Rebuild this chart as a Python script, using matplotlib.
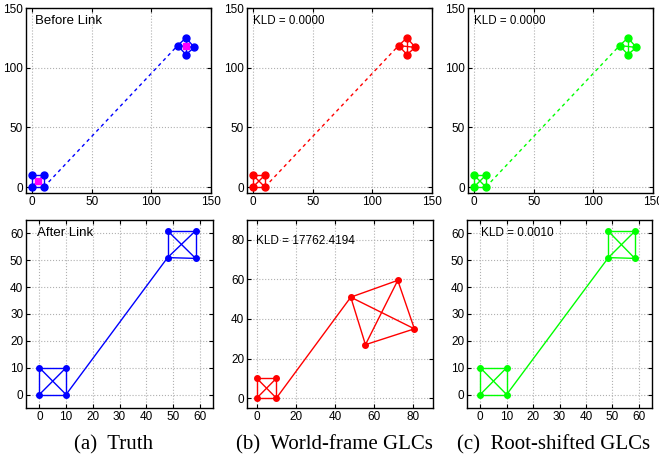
"""
Recreation of the three-column GLC comparison figure (before / after link).
"""

import matplotlib.pyplot as plt

# --- node coordinates ---
# lower square (same in every panel)
square_x = [0, 10, 10, 0]
square_y = [0, 0, 10, 10]

# upper group before the link (diamond)
diamond_x = [122, 129, 136, 129]
diamond_y = [118.5, 125, 117, 111]

# upper group after the link
truth_up_x = [48, 58.5, 58.5, 48]
truth_up_y = [51, 50.7, 61, 61]
world_up_x = [48, 55.5, 80.5, 72]
world_up_y = [51, 27, 35, 59.5]
root_up_x = [48.5, 58.5, 58.5, 48.5]
root_up_y = [51, 50.7, 60.8, 60.8]

# magenta centres in the truth panel
centre_x = [5, 129]
centre_y = [5, 118.5]

# edges inside a 4-node group: ring + both diagonals
EDGES = [(0, 1), (1, 2), (2, 3), (3, 0), (0, 2), (1, 3)]

titles_top = ["Before Link", "KLD = 0.0000", "KLD = 0.0000"]
titles_bot = ["After Link", "KLD = 17762.4194", "KLD = 0.0010"]
captions = ["(a)  Truth", "(b)  World-frame GLCs", "(c)  Root-shifted GLCs"]
colours = ["#0000ff", "#ff0000", "#00ff00"]

W, H = 659, 462


def px_axes(fig, x0, y0, x1, y1):
    return fig.add_axes([x0 / W, 1 - y1 / H, (x1 - x0) / W, (y1 - y0) / H])


def style(ax, lim, ticks):
    ax.set_xlim(lim)
    ax.set_ylim(lim)
    ax.set_xticks(ticks)
    ax.set_yticks(ticks)
    ax.grid(True, linestyle=":", color="#b0b0b0", linewidth=0.8)
    ax.tick_params(direction="in", length=3, labelsize=8.5, pad=2,
                   top=True, right=True, labeltop=False, labelright=False)
    for s in ax.spines.values():
        s.set_linewidth(1.0)


def draw_group(ax, xs, ys, c, ms):
    for i, j in EDGES:
        ax.plot([xs[i], xs[j]], [ys[i], ys[j]], color=c, lw=1.0)
    ax.plot(xs, ys, "o", color=c, ms=ms, mec=c)


def draw_graph(ax, up_x, up_y, c, ms, link, ls):
    draw_group(ax, square_x, square_y, c, ms)
    draw_group(ax, up_x, up_y, c, ms)
    ax.plot([square_x[1], up_x[link]], [square_y[1], up_y[link]],
            color=c, lw=1.0, linestyle=ls)


plt.rcParams["font.family"] = ["Liberation Sans", "DejaVu Sans"]
fig = plt.figure(figsize=(W / 100, H / 100), dpi=100)

top_x = [(26, 211), (247, 432), (468, 653)]
bot_x = [(26, 213), (247, 433), (467, 652)]
bot_lims = [(-5, 65), (-5, 90), (-5, 65)]
bot_ticks = [range(0, 61, 10), range(0, 81, 20), range(0, 61, 10)]
bot_up = [(truth_up_x, truth_up_y), (world_up_x, world_up_y),
          (root_up_x, root_up_y)]
bot_text_pos = [(0.06, 0.93), (0.05, 0.89), (0.075, 0.93)]

for k in range(3):
    c = colours[k]

    # top row: before the link
    ax = px_axes(fig, top_x[k][0], 8, top_x[k][1], 193)
    style(ax, (-5, 150), [0, 50, 100, 150])
    draw_graph(ax, diamond_x, diamond_y, c, 5, 0, (0, (2.5, 2.5)))
    if k == 0:
        ax.plot(centre_x, centre_y, "s", color="#ff00ff", ms=3.8, mec="#ff00ff")
    ax.text(0.05 if k == 0 else 0.03, 0.93, titles_top[k], transform=ax.transAxes,
            fontsize=9.5 if k == 0 else 8.3, va="center", ha="left")

    # bottom row: after the link
    ax = px_axes(fig, bot_x[k][0], 220, bot_x[k][1], 408)
    style(ax, bot_lims[k], list(bot_ticks[k]))
    draw_graph(ax, bot_up[k][0], bot_up[k][1], c, 4, 0, "-")
    tx, ty = bot_text_pos[k]
    ax.text(tx, ty, titles_bot[k], transform=ax.transAxes,
            fontsize=9.5 if k == 0 else 8.5, va="center", ha="left")

    fig.text(((bot_x[k][0] + bot_x[k][1]) / 2 - 6) / W, 1 - 445 / H, captions[k],
             family=["Liberation Serif", "DejaVu Serif"], fontsize=15,
             ha="center", va="center")

fig.savefig("out.png", dpi=100)
